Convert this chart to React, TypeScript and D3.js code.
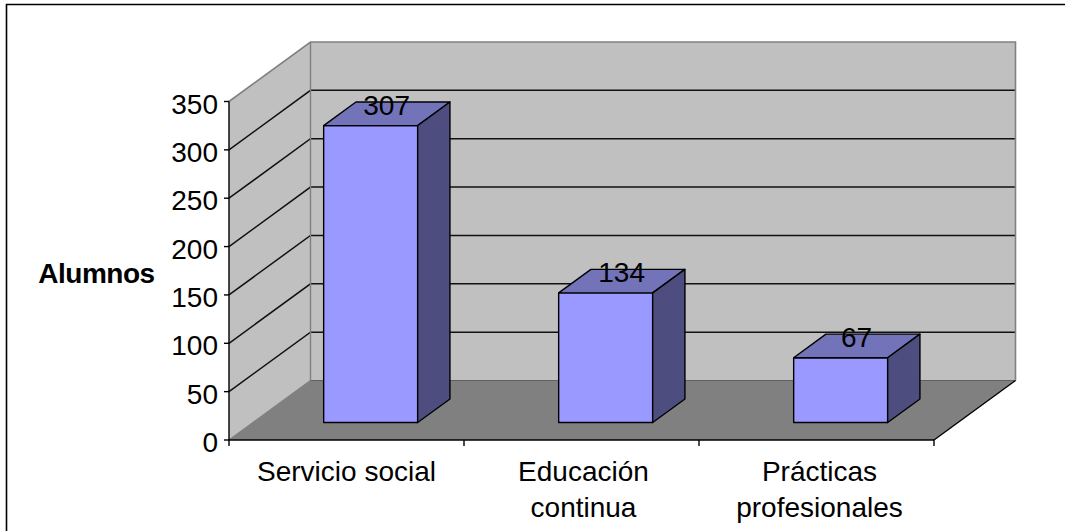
import React from "react";
import * as d3 from "d3";

const categories: string[][] = [["Servicio social"], ["Educación", "continua"], ["Prácticas", "profesionales"]];
const values = [307, 134, 67];
const yTicks = [0, 50, 100, 150, 200, 250, 300, 350];
const axisTitle = "Alumnos";

const W = 1065, H = 531;
const x = d3.scaleBand<number>().domain([0, 1, 2]).range([229, 934]).paddingInner(0).paddingOuter(0);
const y = d3.scaleLinear().domain([0, 350]).range([440, 101.5]);
const DX = 81.5, DY = -59.5;
const barW = x.bandwidth() * 0.4;
const dFront = 0.294, dBack = 0.69;
const labelShift = [0, 2, 3];

const P = (px: number, v: number, d: number) => [px + DX * d, y(v) + DY * d] as [number, number];
const poly = (pts: [number, number][]) => d3.line()(pts)! + "Z";
const font = "'Liberation Sans', Arial, sans-serif";
const S = 1.4;

export default function App() {
  const x0 = x.range()[0], x1 = x.range()[1];
  return (
    <svg width={W} height={H} viewBox={`0 0 ${W} ${H}`} style={{ position: "absolute", left: 0, top: 0, background: "#fff" }} fontFamily={font} fill="#000">
      <path d={`M6.5,${H}V4.5H${W}`} fill="none" stroke="#000" strokeWidth={1.6} />
      {/* side wall */}
      <path d={poly([P(x0, 0, 0), P(x0, 350, 0), P(x0, 350, 1), P(x0, 0, 1)])} fill="#c0c0c0" />
      {/* back wall */}
      <path d={poly([P(x0, 0, 1), P(x0, 350, 1), P(x1, 350, 1), P(x1, 0, 1)])} fill="#c0c0c0" />
      {/* floor */}
      <path d={poly([P(x0, 0, 0), P(x0, 0, 1), P(x1, 0, 1), P(x1, 0, 0)])} fill="#808080" />
      {/* gridlines */}
      {yTicks.slice(1, -1).map(t => (
        <path key={t} d={d3.line()([P(x0, t, 0), P(x0, t, 1), P(x1, t, 1)])!} fill="none" stroke="#111" strokeWidth={1.5} />
      ))}
      {/* wall outlines */}
      <path d={d3.line()([P(x0, 350, 0), P(x0, 350, 1), P(x1, 350, 1), P(x1, 0, 1)])!} fill="none" stroke="#808080" strokeWidth={1.6} />
      <path d={d3.line()([P(x0, 0, 0), P(x0, 0, 1), P(x0, 350, 1)])!} fill="none" stroke="#808080" strokeWidth={1.4} />
      <path d={d3.line()([P(x0, 0, 1), P(x1, 0, 1)])!} fill="none" stroke="#606060" strokeWidth={1} />
      <path d={d3.line()([P(x1, 0, 1), P(x1, 0, 0)])!} fill="none" stroke="#000" strokeWidth={S} />
      {/* axes */}
      <path d={d3.line()([P(x0, 350, 0), P(x0, 0, 0), P(x1, 0, 0)])!} fill="none" stroke="#000" strokeWidth={S} />
      {yTicks.map(t => (
        <g key={t}>
          <path d={`M${x0 - 5},${y(t)}H${x0}`} stroke="#000" strokeWidth={S} />
          <text x={218} y={y(t) + 12} textAnchor="end" fontSize={28}>{t}</text>
        </g>
      ))}
      {[0, 1, 2, 3].map(i => (
        <path key={i} d={`M${x0 + i * x.bandwidth()},${y(0)}v6`} stroke="#000" strokeWidth={S} />
      ))}
      <text x={96.5} y={283} textAnchor="middle" fontSize={28} fontWeight="bold" letterSpacing={-0.5}>{axisTitle}</text>
      {/* bars */}
      {values.map((v, i) => {
        const l = x(i)! + (x.bandwidth() - barW) / 2 + 0.2;
        const r = l + barW;
        const f = (px: number, val: number) => P(px, val, dFront);
        const b = (px: number, val: number) => P(px, val, dBack);
        return (
          <g key={i} stroke="#000" strokeWidth={S} strokeLinejoin="round">
            <path d={poly([f(l, 0), f(l, v), f(r, v), f(r, 0)])} fill="#9999ff" />
            <path d={poly([f(l, v), b(l, v), b(r, v), f(r, v)])} fill="#7373b9" />
            <path d={poly([f(r, 0), f(r, v), b(r, v), b(r, 0)])} fill="#4d4d7f" />
            <text x={(l + r) / 2 + DX * 0.49} y={b(l, v)[1] + 13} textAnchor="middle" fontSize={28} stroke="none" fill="#000">{v}</text>
          </g>
        );
      })}
      {/* category labels */}
      {categories.map((lines, i) => (
        <text key={i} textAnchor="middle" fontSize={28}>
          {lines.map((ln, j) => (
            <tspan key={j} x={x(i)! + x.bandwidth() / 2 + labelShift[i]} y={481 + j * 35.5}>{ln}</tspan>
          ))}
        </text>
      ))}
    </svg>
  );
}
